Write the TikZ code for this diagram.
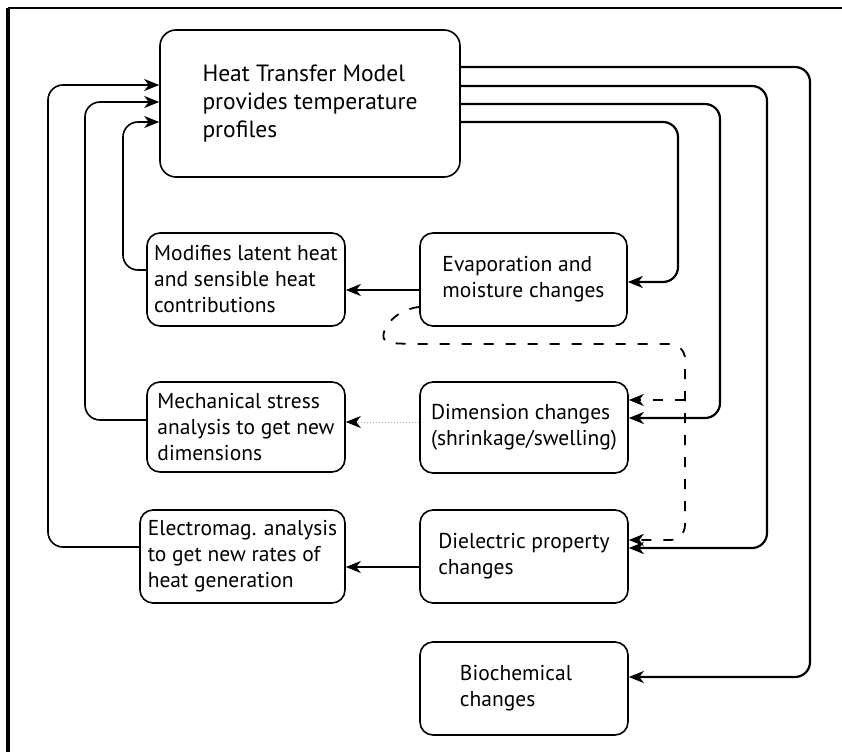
\documentclass[tikz,border=0pt]{standalone}
\usepackage{fontspec}
\setmainfont{PT Sans}
\usetikzlibrary{arrows.meta}
\begin{document}
\begin{tikzpicture}[x=1pt,y=-1pt,
  box/.style={draw, line width=1.6pt, rounded corners=13pt, align=left,
    font=\fontsize{21.5}{26}\selectfont, inner sep=0pt},
  tip/.style={-{Stealth[length=15pt,width=12pt,inset=4.5pt]}},
  conn/.style={tip, line width=2.2pt, rounded corners=15pt},
  lconn/.style={tip, line width=1.6pt, rounded corners=15pt},
  dashconn/.style={tip, line width=1.8pt, rounded corners=15pt, dash pattern=on 10pt off 12pt},
  dotconn/.style={-{Stealth[length=15pt,width=12pt,inset=4.5pt,black]}, line width=1pt, gray!70, dotted}
]
\useasboundingbox (0,0) rectangle (842,752);
% frame
\draw[line width=4pt] (8,8) -- (8,752);
\draw[line width=1.6pt] (8,8) -- (842,8);

% boxes
\node[box, minimum width=300pt, minimum height=147pt, rounded corners=16pt,
  font=\fontsize{23.5}{28}\selectfont] (htm) at (310,103.5)
  {Heat Transfer Model\\provides temperature\\profiles};
\node[box, minimum width=198pt, minimum height=93pt] (mod) at (246,279.5)
  {Modifies latent heat\\and sensible heat\\contributions};
\node[box, minimum width=207pt, minimum height=93pt] (evap) at (523.5,279.5)
  {Evaporation and\\moisture changes};
\node[box, minimum width=198pt, minimum height=90pt] (mech) at (246,427)
  {Mechanical stress\\analysis to get new\\dimensions};
\node[box, minimum width=208pt, minimum height=91pt] (dim) at (524,427.5)
  {Dimension changes\\(shrinkage/swelling)};
\node[box, minimum width=205pt, minimum height=93pt] (em) at (242.5,556.5)
  {Electromag. analysis\\to get new rates of\\heat generation};
\node[box, minimum width=208pt, minimum height=93pt] (diel) at (524,556.5)
  {Dielectric property\\changes};
\node[box, minimum width=208pt, minimum height=93pt] (bio) at (524,688.5)
  {\hspace*{-16pt}Biochemical\\\hspace*{-16pt}changes};

% waypoints right
\coordinate (r1) at (810,67);  \coordinate (r1e) at (810,677);
\coordinate (r2) at (767,86);  \coordinate (r2e) at (767,548);
\coordinate (r3) at (720,104); \coordinate (r3e) at (720,418);
\coordinate (r4) at (678,122); \coordinate (r4e) at (678,282);
% waypoints left
\coordinate (l1) at (48,85);   \coordinate (l1e) at (48,547);
\coordinate (l2) at (85,102);  \coordinate (l2e) at (85,420);
\coordinate (l3) at (123,122); \coordinate (l3e) at (123,270);

% right connectors
\draw[conn] (r1 -| htm.east) -- (r1) -- (r1e) -- (r1e -| bio.east);
\draw[conn] (r2 -| htm.east) -- (r2) -- (r2e) -- (r2e -| diel.east);
\draw[conn] (r3 -| htm.east) -- (r3) -- (r3e) -- (r3e -| dim.east);
\draw[conn] (r4 -| htm.east) -- (r4) -- (r4e) -- (r4e -| evap.east);
% left connectors
\draw[lconn] (l1e -| em.west) -- (l1e) -- (l1) -- (l1 -| htm.west);
\draw[lconn] (l2e -| mech.west) -- (l2e) -- (l2) -- (l2 -| htm.west);
\draw[lconn] (l3e -| mod.west) -- (l3e) -- (l3) -- (l3 -| htm.west);

% horizontal arrows
\coordinate (h1) at (0,290);
\coordinate (h2) at (0,422);
\coordinate (h3) at (0,567);
\draw[conn] (evap.west |- h1) -- (mod.east |- h1);
\draw[dotconn] (dim.west |- h2) -- (mech.east |- h2);
\draw[lconn] (diel.west |- h3) -- (em.east |- h3);

% dashed connector
\coordinate (ds) at (0,307);
\coordinate (dq1) at (685,344);
\coordinate (dq2) at (685,540);
\coordinate (db) at (685,400);
\draw[dashconn] (evap.west |- ds) .. controls (388,310) and (374,342) .. (405,344)
  -- (dq1) -- (dq2) -- (dq2 -| diel.east);
\draw[dashconn] (db) -- (db -| dim.east);
\end{tikzpicture}
\end{document}
